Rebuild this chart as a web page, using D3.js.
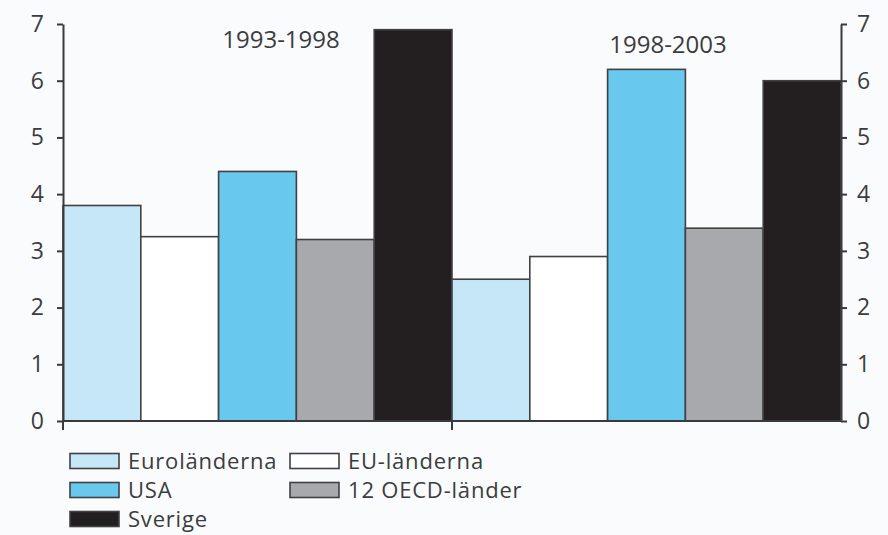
<!DOCTYPE html>
<html>
<head>
<meta charset="utf-8">
<script src="https://cdn.jsdelivr.net/npm/d3@7"></script>
<style>
  html, body { margin: 0; padding: 0; background: #fafbfd; }
  svg { display: block; }
  text { font-family: "Open Sans", "Noto Sans", sans-serif; fill: #3c3c3e; }
</style>
</head>
<body>
<svg id="chart" width="888" height="535"></svg>
<script>
// Periods (groups) and series
const periods = ["1993-1998", "1998-2003"];
const seriesNames = ["Euroländerna", "EU-länderna", "USA", "12 OECD-länder", "Sverige"];
const seriesColors = ["#c6e7f7", "#ffffff", "#69c8ee", "#a8a9ad", "#231f20"];

// Values per series, one per period
const euroValues    = [3.8, 2.5];
const euValues      = [3.25, 2.9];
const usaValues     = [4.4, 6.2];
const oecdValues    = [3.2, 3.4];
const sverigeValues = [6.9, 6.0];
const seriesValues = [euroValues, euValues, usaValues, oecdValues, sverigeValues];

const yTicks = [0, 1, 2, 3, 4, 5, 6, 7];
const periodLabelPos = [
  { x: 281, y: 48 },
  { x: 668, y: 53 }
];

const svg = d3.select("#chart");
const plotLeft = 63, plotRight = 841, plotTop = 24, plotBottom = 421;

const x0 = d3.scaleBand().domain(periods).range([plotLeft, plotRight]).padding(0);
const x1 = d3.scaleBand().domain(seriesNames).range([0, x0.bandwidth()]).padding(0);
const y = d3.scaleLinear().domain([0, 7]).range([plotBottom, plotTop]);

const rows = [];
periods.forEach((p, pi) => {
  seriesNames.forEach((s, si) => {
    rows.push({ period: p, series: s, value: seriesValues[si][pi], color: seriesColors[si] });
  });
});

// Bars
svg.append("g").selectAll("rect").data(rows).join("rect")
  .attr("x", d => x0(d.period) + x1(d.series))
  .attr("y", d => y(d.value))
  .attr("width", x1.bandwidth())
  .attr("height", d => y(0) - y(d.value))
  .attr("fill", d => d.color)
  .attr("stroke", "#414042")
  .attr("stroke-width", 1.6);

// Y axes (left and right)
const axisStyle = g => {
  g.selectAll(".domain").attr("stroke", "#3a3a3c").attr("stroke-width", 2);
  g.selectAll(".tick line").attr("stroke", "#3a3a3c").attr("stroke-width", 2);
  g.selectAll(".tick text").style("font-size", "23px").attr("fill", "#3c3c3e");
};
svg.append("g").attr("transform", `translate(${plotLeft},0)`)
  .call(d3.axisLeft(y).tickValues(yTicks).tickSize(6).tickSizeOuter(0).tickPadding(13).tickFormat(d3.format("d")))
  .call(axisStyle);
svg.append("g").attr("transform", `translate(${plotRight},0)`)
  .call(d3.axisRight(y).tickValues(yTicks).tickSize(6).tickSizeOuter(0).tickPadding(10).tickFormat(d3.format("d")))
  .call(axisStyle);

// Baseline with ticks at period boundaries
svg.append("line")
  .attr("x1", plotLeft).attr("x2", plotRight)
  .attr("y1", y(0)).attr("y2", y(0))
  .attr("stroke", "#3a3a3c").attr("stroke-width", 2);
svg.append("g").selectAll("line").data(periods).join("line")
  .attr("x1", d => x0(d)).attr("x2", d => x0(d))
  .attr("y1", y(0)).attr("y2", y(0) + 9)
  .attr("stroke", "#3a3a3c").attr("stroke-width", 2);

// Period labels
svg.append("g").selectAll("text").data(periods).join("text")
  .attr("x", (d, i) => periodLabelPos[i].x)
  .attr("y", (d, i) => periodLabelPos[i].y)
  .attr("text-anchor", "middle")
  .style("font-size", "24px")
  .text(d => d);

// Legend
const legendItems = seriesNames.map((s, i) => ({ name: s, color: seriesColors[i] }));
const legend = svg.append("g");
const colX = [70, 290];
const rowY = [461, 490, 519];
const item = legend.selectAll("g").data(legendItems).join("g")
  .attr("transform", (d, i) => `translate(${colX[i % 2]},${rowY[Math.floor(i / 2)]})`);
item.append("rect")
  .attr("x", 0).attr("y", -7.5)
  .attr("width", 49).attr("height", 15)
  .attr("fill", d => d.color)
  .attr("stroke", "#414042").attr("stroke-width", 1.6);
item.append("text")
  .attr("x", 58).attr("y", 0).attr("dy", "0.36em")
  .style("font-size", "22px")
  .style("letter-spacing", "0.8px")
  .text(d => d.name);
</script>
</body>
</html>
